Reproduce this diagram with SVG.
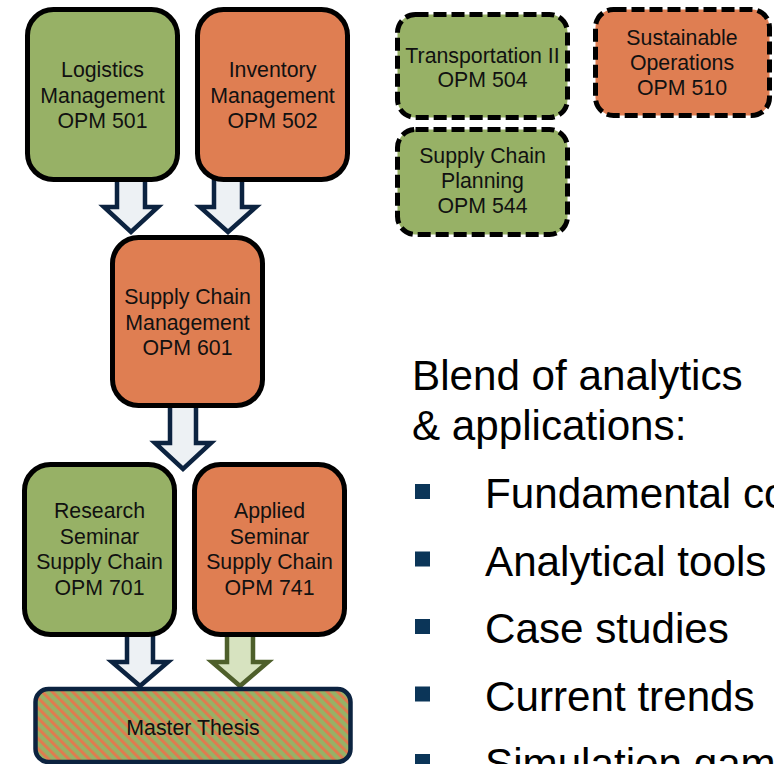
<svg xmlns="http://www.w3.org/2000/svg" width="774" height="764" viewBox="0 0 774 764">
<defs>
<style>
.box{stroke:#000;stroke-width:5}
.dash{stroke:#000;stroke-width:5;stroke-dasharray:13 5}
.g{fill:#97b166}
.o{fill:#df7e52}
.t{font-family:"Liberation Sans",Arial,sans-serif;font-size:21.3px;fill:#111;text-anchor:middle}
.big{font-family:"Liberation Sans",Arial,sans-serif;font-size:42.2px;fill:#000}
.arr{fill:#edf1f4;stroke:#0c2340;stroke-width:4.5;stroke-linejoin:miter}
.arrg{fill:#d7e3c0;stroke:#4e5f2b;stroke-width:4.5;stroke-linejoin:miter}
.bul{fill:#0b3558}
</style>
<pattern id="hatch" width="7.2" height="7.2" patternUnits="userSpaceOnUse" patternTransform="rotate(-45)">
<rect width="7.2" height="7.2" fill="#97b166"/>
<rect width="3" height="7.2" fill="#e07b4f"/>
</pattern>
</defs>
<rect width="774" height="764" fill="#fff"/>
<g id="connectors">
<path class="arr" d="M117,175 V207 H104 L131,232 L158,207 H145 V175 Z"/>
<path class="arr" d="M214,175 V207 H200 L228,232 L256,207 H242 V175 Z"/>
<path class="arr" d="M170,402 V443 H155 L183,469 L211,443 H196 V402 Z"/>
<path class="arr" d="M127,630 V662 H112 L140,686 L168,662 H153 V630 Z"/>
<path class="arrg" d="M227,630 V662 H212 L240,686 L268,662 H253 V630 Z"/>
</g>
<g id="logistics">
<rect class="box g" x="27.5" y="9.5" width="150" height="170" rx="26"/>
<text class="t"><tspan x="102.5" y="77">Logistics</tspan><tspan x="102.5" y="103">Management</tspan><tspan x="102.5" y="128">OPM 501</tspan></text>
</g>
<g id="inventory">
<rect class="box o" x="197.5" y="9.5" width="150" height="170" rx="26"/>
<text class="t"><tspan x="272.5" y="77">Inventory</tspan><tspan x="272.5" y="103">Management</tspan><tspan x="272.5" y="128">OPM 502</tspan></text>
</g>
<g id="scm">
<rect class="box o" x="112.5" y="237.5" width="150" height="168" rx="26"/>
<text class="t"><tspan x="187.5" y="304">Supply Chain</tspan><tspan x="187.5" y="330">Management</tspan><tspan x="187.5" y="355">OPM 601</tspan></text>
</g>
<g id="research">
<rect class="box g" x="24.5" y="464.5" width="150" height="170" rx="26"/>
<text class="t"><tspan x="99.5" y="518">Research</tspan><tspan x="99.5" y="544">Seminar</tspan><tspan x="99.5" y="569">Supply Chain</tspan><tspan x="99.5" y="595">OPM 701</tspan></text>
</g>
<g id="applied">
<rect class="box o" x="194.5" y="464.5" width="150" height="170" rx="26"/>
<text class="t"><tspan x="269.5" y="518">Applied</tspan><tspan x="269.5" y="544">Seminar</tspan><tspan x="269.5" y="569">Supply Chain</tspan><tspan x="269.5" y="595">OPM 741</tspan></text>
</g>
<g id="thesis">
<rect x="35.5" y="689" width="315" height="73" rx="13" fill="url(#hatch)" stroke="#0c2340" stroke-width="4.5"/>
<text class="t" x="193" y="735">Master Thesis</text>
</g>
<g id="transport">
<rect class="dash g" x="397.5" y="14.5" width="170" height="103" rx="18"/>
<text class="t"><tspan x="482.5" y="63">Transportation II</tspan><tspan x="482.5" y="87">OPM 504</tspan></text>
</g>
<g id="scplanning">
<rect class="dash g" x="397.5" y="129.5" width="170" height="105" rx="18"/>
<text class="t"><tspan x="482.5" y="163">Supply Chain</tspan><tspan x="482.5" y="188">Planning</tspan><tspan x="482.5" y="213">OPM 544</tspan></text>
</g>
<g id="sustainable">
<rect class="dash o" x="595.5" y="9.5" width="174" height="106" rx="18"/>
<text class="t"><tspan x="682" y="45">Sustainable</tspan><tspan x="682" y="70">Operations</tspan><tspan x="682" y="95">OPM 510</tspan></text>
</g>
<g id="blend">
<text class="big" x="412" y="390">Blend of analytics</text>
<text class="big" x="412" y="440">&amp; applications:</text>
<rect class="bul" x="415" y="484" width="15" height="15"/>
<rect class="bul" x="415" y="551.5" width="15" height="15"/>
<rect class="bul" x="415" y="619" width="15" height="15"/>
<rect class="bul" x="415" y="686.5" width="15" height="15"/>
<rect class="bul" x="415" y="754" width="15" height="15"/>
<text class="big" x="485" y="508">Fundamental concepts</text>
<text class="big" x="485" y="575.5">Analytical tools</text>
<text class="big" x="485" y="643">Case studies</text>
<text class="big" x="485" y="710.5">Current trends</text>
<text class="big" x="485" y="778">Simulation games</text>
</g>
</svg>
